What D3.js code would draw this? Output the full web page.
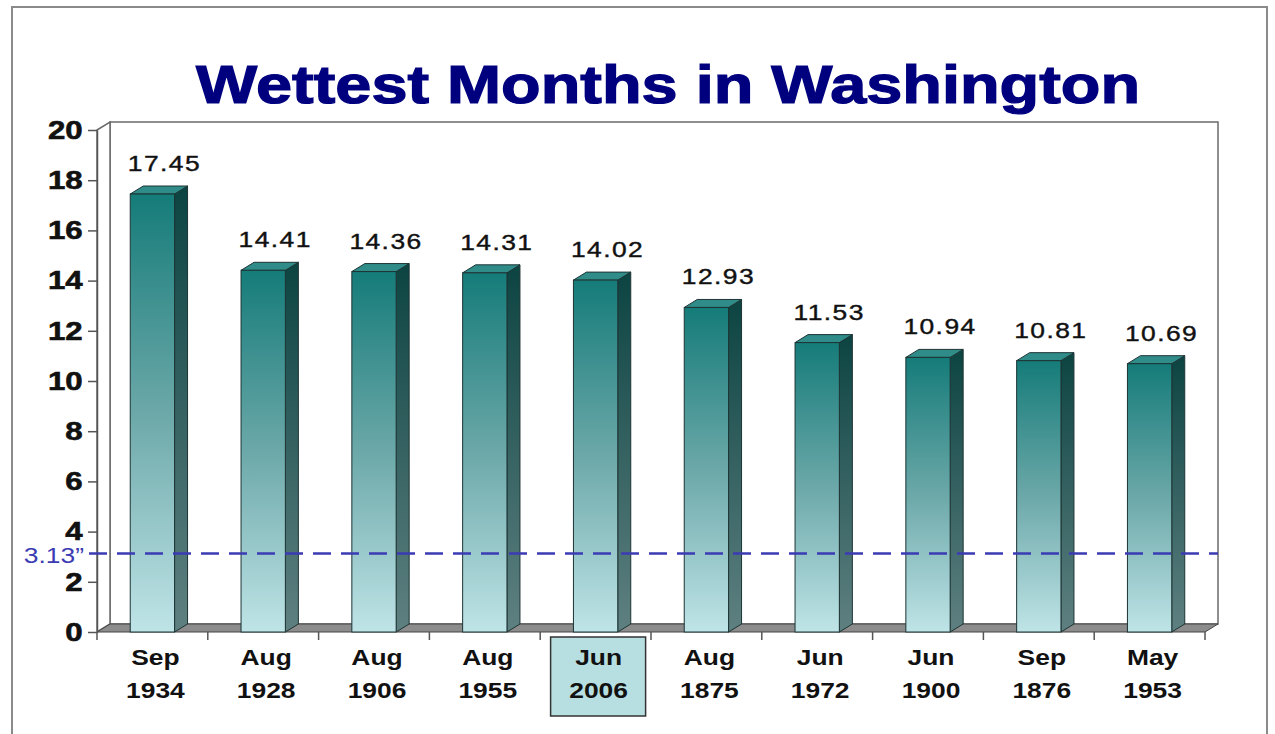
<!DOCTYPE html>
<html>
<head>
<meta charset="utf-8">
<script src="https://cdn.jsdelivr.net/npm/d3@7"></script>
<style>
  body { margin: 0; background: #fff; }
  svg { display: block; font-family: "Liberation Sans", Arial, sans-serif; }
</style>
</head>
<body>
<svg id="chart" width="1275" height="734"></svg>
<script>
// chart data
var months = ['Sep', 'Aug', 'Aug', 'Aug', 'Jun', 'Aug', 'Jun', 'Jun', 'Sep', 'May'];
var years = ['1934', '1928', '1906', '1955', '2006', '1875', '1972', '1900', '1876', '1953'];
var rainfall = [17.45, 14.41, 14.36, 14.31, 14.02, 12.93, 11.53, 10.94, 10.81, 10.69];
var yTicks = [0, 2, 4, 6, 8, 10, 12, 14, 16, 18, 20];
var normalValue = 3.13;
var normalLabel = '3.13\u201d';
var highlightYear = '2006';
var titleText = 'Wettest Months in Washington';

var keys = months.map(function(m, i) { return m + ' ' + years[i]; });

var plotLeft = 97, plotRight = 1205, plotBottom = 632, plotTop = 130;
var depthX = 13, depthY = -8;
var stretch = 1.2;

var svg = d3.select('#chart');

var x = d3.scaleBand().domain(keys).range([plotLeft, plotRight]).paddingInner(0.6).paddingOuter(0.3);
var y = d3.scaleLinear().domain([0, 20]).range([plotBottom, plotTop]);

// gradients
var defs = svg.append('defs');
var gFront = defs.append('linearGradient').attr('id', 'front').attr('x1', 0).attr('y1', 0).attr('x2', 0).attr('y2', 1);
gFront.append('stop').attr('offset', '0%').attr('stop-color', '#157c79');
gFront.append('stop').attr('offset', '50%').attr('stop-color', '#6ca8a9');
gFront.append('stop').attr('offset', '100%').attr('stop-color', '#bfe4e7');
var gSide = defs.append('linearGradient').attr('id', 'side').attr('x1', 0).attr('y1', 0).attr('x2', 0).attr('y2', 1);
gSide.append('stop').attr('offset', '0%').attr('stop-color', '#0c4442');
gSide.append('stop').attr('offset', '100%').attr('stop-color', '#5f8081');

// outer frame
svg.append('rect')
	.attr('x', 12).attr('y', 7)
	.attr('width', 1255).attr('height', 760)
	.attr('fill', 'none').attr('stroke', '#8a8a8a').attr('stroke-width', 2);

// title
svg.append('text')
	.attr('x', 196).attr('y', 103)
	.attr('textLength', 944).attr('lengthAdjust', 'spacingAndGlyphs')
	.attr('font-size', 53).attr('font-weight', 'bold')
	.attr('fill', '#00007f')
	.attr('stroke', '#00007f').attr('stroke-width', 1.2)
	.text(titleText);

// walls and floor
var wall = svg.append('g').attr('stroke', '#6a6a6a').attr('stroke-width', 1.5);
wall.append('rect')
	.attr('x', plotLeft + depthX).attr('y', plotTop + depthY)
	.attr('width', plotRight - plotLeft).attr('height', plotBottom - plotTop)
	.attr('fill', '#fff');
wall.append('polygon')
	.attr('points', [[plotLeft, plotTop], [plotLeft + depthX, plotTop + depthY], [plotLeft + depthX, plotBottom + depthY], [plotLeft, plotBottom]].join(' '))
	.attr('fill', '#fff');
svg.append('polygon')
	.attr('points', [[plotLeft, plotBottom], [plotRight, plotBottom], [plotRight + depthX, plotBottom + depthY], [plotLeft + depthX, plotBottom + depthY]].join(' '))
	.attr('fill', '#8c8c8c').attr('stroke', '#444').attr('stroke-width', 1);

// category ticks
svg.append('g').selectAll('line')
	.data(d3.range(keys.length + 1))
	.enter()
	.append('line')
	.attr('x1', function(i) { return plotLeft + i * x.step(); })
	.attr('x2', function(i) { return plotLeft + i * x.step(); })
	.attr('y1', plotBottom).attr('y2', plotBottom + 8)
	.attr('stroke', '#555').attr('stroke-width', 1.5);

// y axis
var yAxis = svg.append('g')
	.attr('transform', 'translate(' + plotLeft + ',0)')
	.call(d3.axisLeft(y).tickValues(yTicks).tickSize(9).tickSizeOuter(0).tickPadding(3));
yAxis.select('.domain').attr('stroke', '#555').attr('stroke-width', 1.5);
yAxis.selectAll('.tick line').attr('stroke', '#555').attr('stroke-width', 1.5);
yAxis.selectAll('.tick text')
	.attr('font-size', 26).attr('font-weight', 'bold')
	.attr('font-family', '"Liberation Sans", Arial, sans-serif')
	.attr('fill', '#111').attr('stroke', '#111').attr('stroke-width', 0.6)
	.attr('transform', 'scale(' + stretch + ',1)');

// bars
var bars = svg.append('g').selectAll('g.bar')
	.data(rainfall)
	.enter()
	.append('g')
	.attr('class', 'bar');

bars.append('polygon')
	.attr('points', function(d, i) {
		var x0 = x(keys[i]) + x.bandwidth(), y0 = y(d);
		return [[x0, y0], [x0 + depthX, y0 + depthY], [x0 + depthX, plotBottom + depthY], [x0, plotBottom]].join(' ');
	})
	.attr('fill', 'url(#side)').attr('stroke', '#1d3434').attr('stroke-width', 1);

bars.append('polygon')
	.attr('points', function(d, i) {
		var x0 = x(keys[i]), x1 = x0 + x.bandwidth(), y0 = y(d);
		return [[x0, y0], [x1, y0], [x1 + depthX, y0 + depthY], [x0 + depthX, y0 + depthY]].join(' ');
	})
	.attr('fill', '#2f8c89').attr('stroke', '#1d3434').attr('stroke-width', 1);

bars.append('rect')
	.attr('x', function(d, i) { return x(keys[i]); })
	.attr('y', function(d) { return y(d); })
	.attr('width', x.bandwidth())
	.attr('height', function(d) { return plotBottom - y(d); })
	.attr('fill', 'url(#front)').attr('stroke', '#1d3434').attr('stroke-width', 1);

// value labels
bars.append('text')
	.attr('transform', function(d, i) {
		return 'translate(' + (x(keys[i]) + x.bandwidth() / 2 + 12) + ',' + (y(d) - 23) + ') scale(' + stretch + ',1)';
	})
	.attr('text-anchor', 'middle')
	.attr('font-size', 22)
	.attr('letter-spacing', 1.2)
	.attr('fill', '#111').attr('stroke', '#111').attr('stroke-width', 0.4)
	.text(function(d) { return d.toFixed(2); });

// highlight box behind the 2006 label
var hi = years.indexOf(highlightYear);
svg.append('rect')
	.attr('x', x(keys[hi]) + x.bandwidth() / 2 - 45)
	.attr('y', plotBottom + 5)
	.attr('width', 95).attr('height', 79)
	.attr('fill', '#b7dfe2').attr('stroke', '#333').attr('stroke-width', 1.5);

// category labels
var cats = svg.append('g').selectAll('g.cat')
	.data(keys)
	.enter()
	.append('g')
	.attr('class', 'cat')
	.attr('font-size', 22).attr('font-weight', 'bold').attr('fill', '#111')
	.attr('text-anchor', 'middle');

cats.append('text')
	.attr('transform', function(d) { return 'translate(' + (x(d) + x.bandwidth() / 2 + 3) + ',665) scale(' + stretch + ',1)'; })
	.text(function(d, i) { return months[i]; });
cats.append('text')
	.attr('transform', function(d) { return 'translate(' + (x(d) + x.bandwidth() / 2 + 3) + ',698) scale(' + stretch + ',1)'; })
	.text(function(d, i) { return years[i]; });

// normal rainfall line
svg.append('line')
	.attr('x1', plotLeft - 8).attr('x2', plotRight + depthX)
	.attr('y1', y(normalValue)).attr('y2', y(normalValue))
	.attr('stroke', '#3b3bb3').attr('stroke-width', 2.5)
	.attr('stroke-dasharray', '18,10');

svg.append('text')
	.attr('transform', 'translate(84,' + (y(normalValue) + 10) + ') scale(' + stretch + ',1)')
	.attr('text-anchor', 'end')
	.attr('font-size', 22)
	.attr('fill', '#3b3bb3')
	.text(normalLabel);
</script>
</body>
</html>
